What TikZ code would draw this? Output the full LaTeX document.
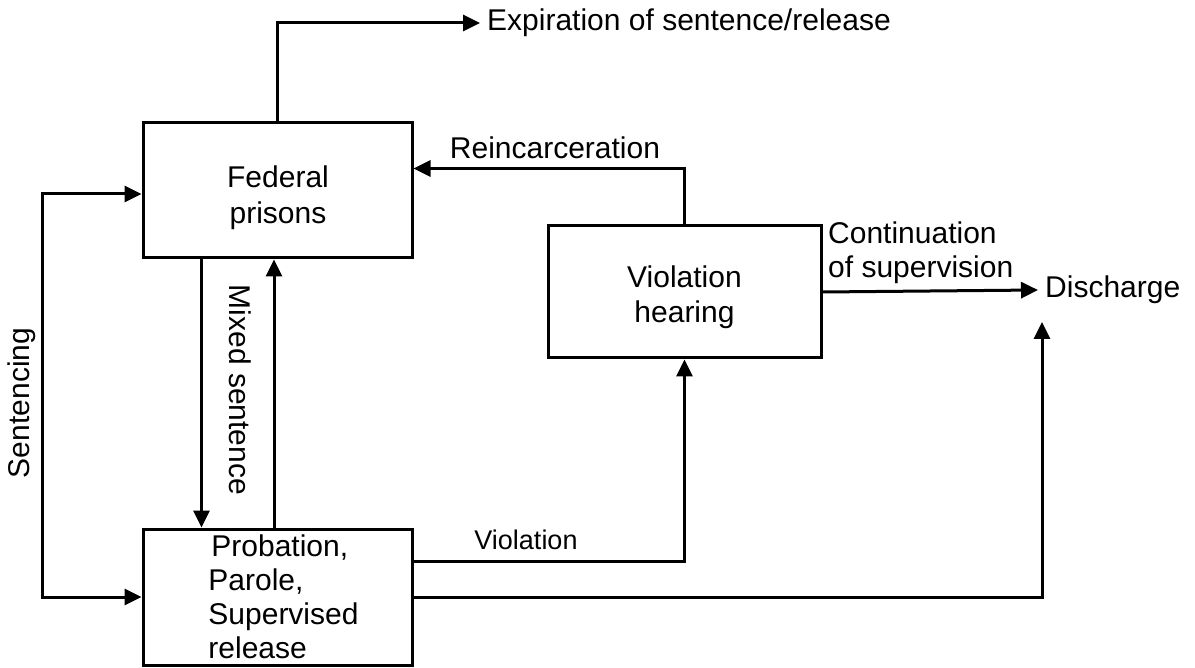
\documentclass[tikz,border=0pt]{standalone}
\usepackage{fontspec}
\setmainfont{Liberation Sans}
\usetikzlibrary{arrows.meta}
\begin{document}
\begin{tikzpicture}[x=1pt,y=-1pt,
  every node/.style={inner sep=0pt, font=\fontsize{30}{34}\selectfont},
  box/.style={draw, line width=3pt, rectangle},
  lbl/.style={inner sep=0pt},
  arr/.style={line width=3pt, -{Triangle[length=17pt,width=16pt]}}]
\useasboundingbox (0,0) rectangle (1195,668);

% boxes
\node[box, minimum width=269pt, minimum height=135pt] (fp) at (277.5,190.5) {};
\node[box, minimum width=273pt, minimum height=132pt] (vh) at (684.5,292) {};
\node[box, minimum width=269pt, minimum height=136pt] (pb) at (277.5,597) {};

% box texts
\node[lbl, align=center, font=\fontsize{30}{36}\selectfont] (fpt) at (278,197.5) {Federal\\prisons};
\node[lbl, align=center, font=\fontsize{30}{35}\selectfont] (vht) at (684.5,297) {Violation\\hearing};
\node[lbl, align=left] (pbt) at (283.5,597) {\hspace*{3pt}Probation,\\Parole,\\Supervised\\release};

% free-standing outcomes
\node[lbl, anchor=west] (exp) at (487,23) {Expiration of sentence/release};
\node[lbl, anchor=west] (dis) at (1045,290) {Discharge};
\coordinate (dtip) at (1042,322);
\coordinate (sx) at (42,400);

% connectors
\draw[arr] (fp.north) |- ([xshift=-7pt]exp.west);
\draw[arr] (vh.north) |- ([yshift=22pt]fp.east);
\draw[arr] (vh.east) -- ([xshift=-7pt]dis.west);
\draw[arr] (pb.east) -| (dtip);
\draw[arr] ([yshift=36pt]pb.east) -| (vh.south);
\draw[arr] ([xshift=-76pt]fp.south) -- ([xshift=-76pt]pb.north);
\draw[arr] ([xshift=-3.5pt]pb.north) -- ([xshift=-3.5pt]fp.south);
\draw[arr] (sx) |- ([yshift=-3.5pt]fp.west);
\draw[arr] (sx) |- (pb.west);

% connector labels
\node[lbl] (lreinc) at (555,148) {Reincarceration};
\node[lbl, anchor=west, align=left] (lcont) at (828,253) {Continuation\\of supervision};
\node[lbl, font=\fontsize{27}{30}\selectfont] (lviol) at (526,540) {Violation};
\node[lbl, rotate=90] (lsent) at (22,403) {Sentencing};
\node[lbl, rotate=-90] (lmix) at (240,390) {Mixed sentence};
\end{tikzpicture}
\end{document}
